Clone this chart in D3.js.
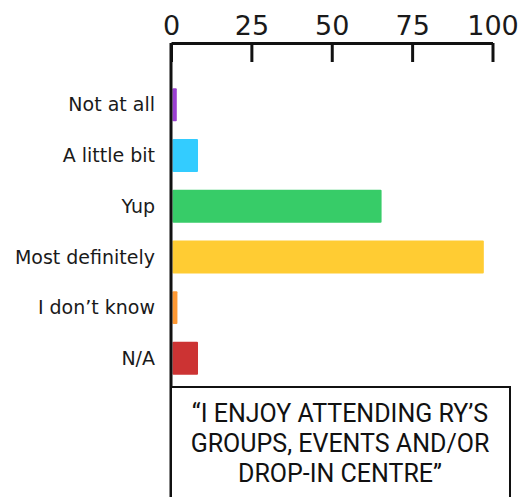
<!DOCTYPE html>
<html>
<head>
<meta charset="utf-8">
<script src="https://cdn.jsdelivr.net/npm/d3@7"></script>
<style>
  body { margin: 0; background: #fff; }
  svg { display: block; }
</style>
</head>
<body>
<svg width="522" height="497"></svg>
<script>
const categories = ["Not at all", "A little bit", "Yup", "Most definitely", "I don\u2019t know", "N/A"];
const values = [1.8, 8.4, 65.5, 97.3, 2.0, 8.4];
const colors = ["#9b3fd1", "#33ccff", "#37cc68", "#ffcc33", "#ff9933", "#cc3333"];
const ticks = [0, 25, 50, 75, 100];
const titleLines = ["\u201cI ENJOY ATTENDING RY\u2019S", "GROUPS, EVENTS AND/OR", "DROP-IN CENTRE\u201d"];

const svg = d3.select("svg");

const x = d3.scaleLinear().domain([0, 100]).range([171, 492.5]);
const y = d3.scaleBand().domain(categories).range([88.3, 374.8]).paddingInner(0.35).paddingOuter(0);

// bars
svg.append("g")
  .selectAll("rect")
  .data(categories)
  .join("rect")
    .attr("x", x(0) + 1.5)
    .attr("y", d => y(d))
    .attr("width", (d, i) => x(values[i]) - x(0) - 1.5)
    .attr("height", y.bandwidth())
    .attr("rx", 1)
    .attr("fill", (d, i) => colors[i]);

// category labels
svg.append("g")
  .selectAll("text")
  .data(categories)
  .join("text")
    .attr("x", 155)
    .attr("y", d => y(d) + y.bandwidth() / 2)
    .attr("dy", "0.35em")
    .attr("text-anchor", "end")
    .attr("font-family", "DejaVu Sans")
    .attr("font-size", 19)
    .attr("fill", "#1a1a1a")
    .text(d => d);

// top axis
const axis = svg.append("g")
  .attr("transform", "translate(0,43)")
  .call(d3.axisTop(x).tickValues(ticks).tickSizeInner(-19).tickSizeOuter(0).tickPadding(8));
axis.select(".domain").attr("stroke", "#111").attr("stroke-width", 3);
axis.selectAll(".tick line").attr("stroke", "#111").attr("stroke-width", 3);
axis.selectAll(".tick text")
  .attr("font-family", "DejaVu Sans")
  .attr("font-size", 27)
  .attr("fill", "#1a1a1a")
  .attr("dy", "0em");

// vertical axis line
svg.append("line")
  .attr("x1", x(0)).attr("x2", x(0))
  .attr("y1", 43).attr("y2", 497)
  .attr("stroke", "#111")
  .attr("stroke-width", 3);

// caption box
svg.append("rect")
  .attr("x", 171).attr("y", 387)
  .attr("width", 339).attr("height", 130)
  .attr("fill", "#fff")
  .attr("stroke", "#111")
  .attr("stroke-width", 2);

svg.append("g")
  .selectAll("text")
  .data(titleLines)
  .join("text")
    .attr("x", 340)
    .attr("y", (d, i) => 421.5 + i * 30)
    .attr("text-anchor", "middle")
    .attr("font-family", "Roboto")
    .attr("font-size", 25)
    .attr("fill", "#111")
    .text(d => d);
</script>
</body>
</html>
